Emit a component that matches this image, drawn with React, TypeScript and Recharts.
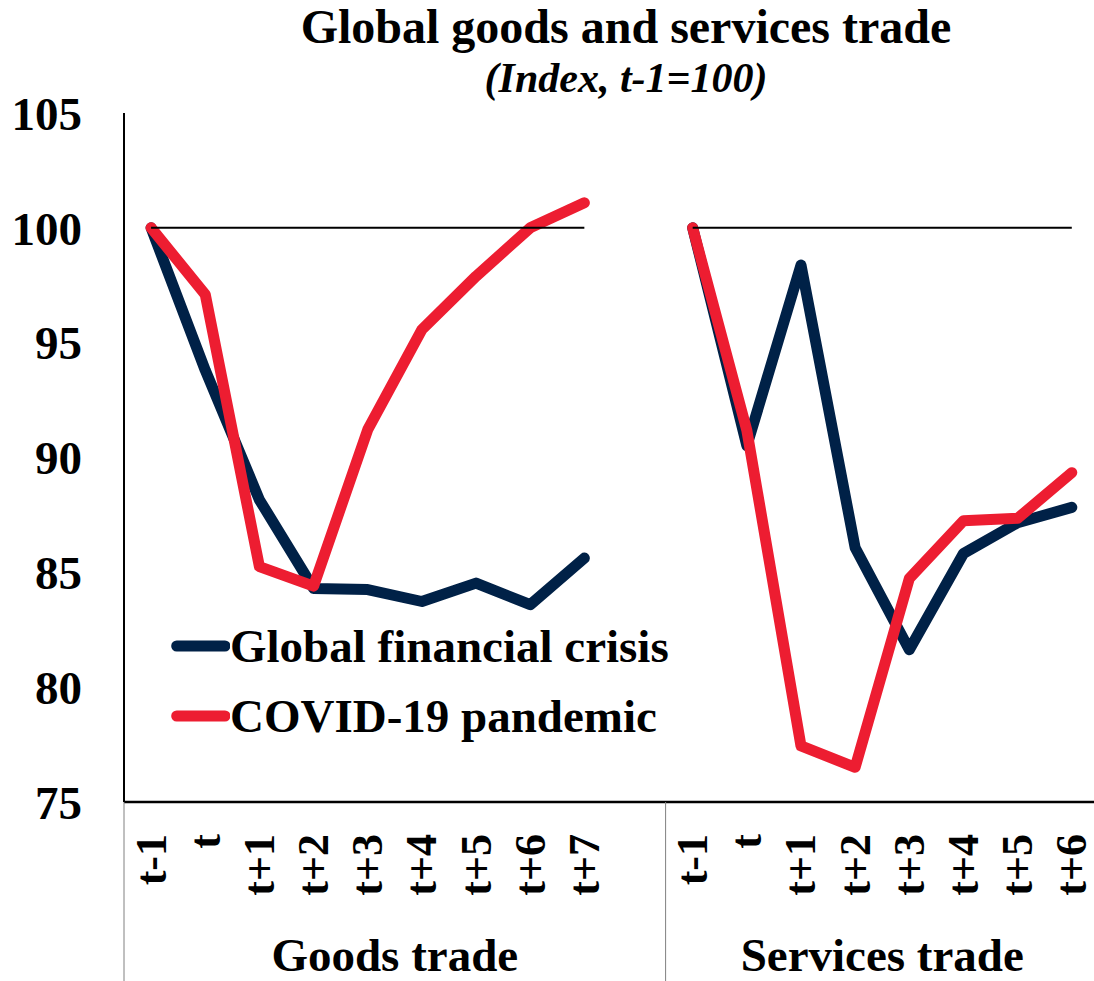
import React from "react";
import { LineChart, Line, XAxis, YAxis, Legend } from "recharts";

const categories = ["t-1", "t", "t+1", "t+2", "t+3", "t+4", "t+5", "t+6", "t+7", "", "t-1", "t", "t+1", "t+2", "t+3", "t+4", "t+5", "t+6"];
const gfcValues = [100, 93.8, 88.16, 84.3, 84.25, 83.73, 84.53, 83.59, 85.62, null, 100, 90.51, 98.38, 86.07, 81.63, 85.82, 87.16, 87.83];
const covidValues = [100, 97.1, 85.25, 84.4, 91.21, 95.57, 97.89, 100.0, 101.09, null, 100, 91.18, 77.44, 76.51, 84.73, 87.25, 87.35, 89.34];
const baselineValues = [100, 100, 100, 100, 100, 100, 100, 100, 100, null, 100, 100, 100, 100, 100, 100, 100, 100];
const yTicks = [75, 80, 85, 90, 95, 100, 105];
const xTicks = [0, 1, 2, 3, 4, 5, 6, 7, 8, 10, 11, 12, 13, 14, 15, 16, 17];
const groupLabels = ["Goods trade", "Services trade"];
const groupStarts = [0, 10];
const groupSpans = [10, 8];
const seriesNames = ["Global financial crisis", "COVID-19 pandemic"];
const title = "Global goods and services trade";
const subtitle = "(Index, t-1=100)";

const NAVY = "#002147";
const RED = "#ED1D31";
const FONT = "'Liberation Serif', 'Times New Roman', serif";

const W = 1094;
const H = 981;
const LEFT = 124;
const TOP = 113;
const XAXIS_H = 179;
const DOMAIN: [number, number] = [-0.5, 17.41];
const BAND = (W - LEFT) / (DOMAIN[1] - DOMAIN[0]);

const data = categories.map((c, i) => ({
  idx: i,
  cat: c,
  gfc: gfcValues[i],
  covid: covidValues[i],
  base: baselineValues[i],
}));

function XTick(props: any) {
  const { x, y, payload } = props;
  const i = payload.value as number;
  const label = categories[i];
  const ty = y + 32;
  const g = groupStarts.indexOf(i);
  return (
    <g>
      <text
        x={x}
        y={ty}
        transform={`rotate(-90, ${x}, ${ty})`}
        textAnchor="end"
        dominantBaseline="central"
        fontFamily={FONT}
        fontWeight="bold"
        fontSize={44}
        fill="#000"
      >
        {label}
      </text>
      {g >= 0 && (
        <>
          <line x1={x - BAND / 2} y1={y} x2={x - BAND / 2} y2={y + XAXIS_H} stroke="#808080" strokeWidth={1} />
          <text
            x={x - BAND / 2 + (groupSpans[g] * BAND) / 2}
            y={y + 169}
            textAnchor="middle"
            fontFamily={FONT}
            fontWeight="bold"
            fontSize={47}
            fill="#000"
          >
            {groupLabels[g]}
          </text>
        </>
      )}
    </g>
  );
}

function LegendContent(props: any) {
  const items = (props.payload || [])
    .filter((p: any) => p.value && seriesNames.includes(p.value))
    .sort((a: any, b: any) => seriesNames.indexOf(a.value) - seriesNames.indexOf(b.value));
  return (
    <div>
      {items.map((p: any) => (
        <div key={p.value} style={{ display: "flex", alignItems: "center", height: 70 }}>
          <svg width={64} height={14} style={{ display: "block" }}>
            <line x1={10.7} y1={7} x2={59} y2={7} stroke={p.color} strokeWidth={11} strokeLinecap="round" />
          </svg>
          <span style={{ fontFamily: FONT, fontWeight: "bold", fontSize: 47, lineHeight: "70px", color: "#000", whiteSpace: "nowrap" }}>
            {p.value}
          </span>
        </div>
      ))}
    </div>
  );
}

export default function App() {
  return (
    <div style={{ position: "absolute", left: 0, top: 0, width: W, height: H, background: "#fff", overflow: "hidden" }}>
      <div
        style={{
          position: "absolute",
          left: 176,
          width: 900,
          top: 3,
          textAlign: "center",
          fontFamily: FONT,
          fontWeight: "bold",
          fontSize: 48,
          lineHeight: "48px",
          whiteSpace: "nowrap",
          color: "#000",
        }}
      >
        {title}
      </div>
      <div
        style={{
          position: "absolute",
          left: 176,
          width: 900,
          top: 57,
          textAlign: "center",
          fontFamily: FONT,
          fontWeight: "bold",
          fontStyle: "italic",
          fontSize: 42,
          lineHeight: "42px",
          whiteSpace: "nowrap",
          color: "#000",
        }}
      >
        {subtitle}
      </div>
      <div style={{ position: "absolute", left: 0, top: 0 }}>
        <LineChart width={W} height={H} data={data} margin={{ top: TOP, right: 0, bottom: 0, left: 0 }}>
          <XAxis
            dataKey="idx"
            type="number"
            domain={DOMAIN}
            allowDataOverflow
            ticks={xTicks}
            interval={0}
            height={XAXIS_H}
            tickSize={0}
            tickMargin={0}
            tickLine={false}
            axisLine={{ stroke: "#000", strokeWidth: 2.5 }}
            tick={<XTick />}
          />
          <XAxis
            xAxisId="top"
            orientation="top"
            dataKey="idx"
            type="number"
            domain={DOMAIN}
            allowDataOverflow
            height={0}
            tick={false}
            tickLine={false}
            axisLine={{ stroke: "#000", strokeWidth: 2 }}
          />
          <YAxis
            type="number"
            domain={[75, 105]}
            ticks={yTicks}
            interval={0}
            width={LEFT}
            tickSize={0}
            tickMargin={42}
            tickLine={false}
            axisLine={{ stroke: "#000", strokeWidth: 2 }}
            tick={{ fontFamily: FONT, fontWeight: "bold", fontSize: 47, fill: "#000" }}
          />
          <Legend
            layout="vertical"
            align="center"
            verticalAlign="middle"
            wrapperStyle={{ left: 166, top: 611, width: 540 }}
            content={<LegendContent />}
          />
          <Line
            name={seriesNames[0]}
            dataKey="gfc"
            stroke={NAVY}
            strokeWidth={11}
            strokeLinecap="round"
            strokeLinejoin="round"
            dot={false}
            activeDot={false}
            connectNulls={false}
            isAnimationActive={false}
          />
          <Line
            name={seriesNames[1]}
            dataKey="covid"
            stroke={RED}
            strokeWidth={11}
            strokeLinecap="round"
            strokeLinejoin="round"
            dot={false}
            activeDot={false}
            connectNulls={false}
            isAnimationActive={false}
          />
          <Line
            name="base"
            legendType="none"
            dataKey="base"
            stroke="#000"
            strokeWidth={2}
            dot={false}
            activeDot={false}
            connectNulls={false}
            isAnimationActive={false}
          />
        </LineChart>
      </div>
    </div>
  );
}
